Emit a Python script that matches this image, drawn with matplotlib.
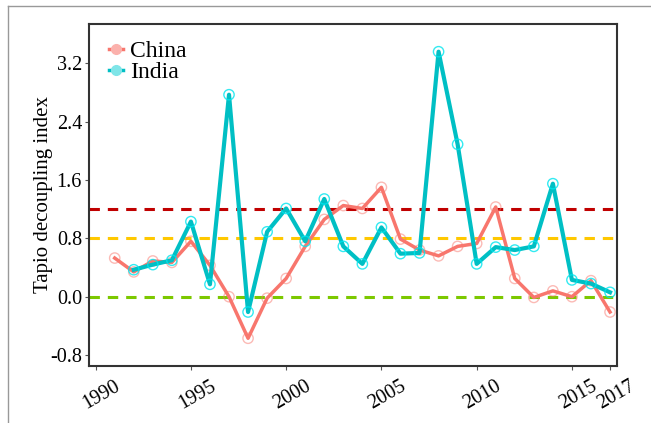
import numpy as np
import matplotlib
matplotlib.use('Agg')
import matplotlib.pyplot as plt
from matplotlib.lines import Line2D
import matplotlib.transforms as mtransforms

plt.rcParams['font.family'] = ['Liberation Serif', 'DejaVu Serif']

# Tapio decoupling index by year
china_years = list(range(1991, 2018))
china_vals = [0.53, 0.34, 0.49, 0.47, 0.76, 0.43, 0.00, -0.57, -0.02, 0.25,
              0.69, 1.06, 1.25, 1.21, 1.50, 0.79, 0.64, 0.56, 0.69, 0.73,
              1.23, 0.25, -0.01, 0.08, 0.00, 0.22, -0.21]
india_years = list(range(1992, 2018))
india_vals = [0.37, 0.44, 0.50, 1.03, 0.17, 2.77, -0.21, 0.89, 1.21, 0.76,
              1.34, 0.69, 0.45, 0.95, 0.59, 0.60, 3.36, 2.09, 0.45, 0.68,
              0.64, 0.69, 1.55, 0.23, 0.18, 0.06]

thresholds = [1.2, 0.8, 0.0]
threshold_colors = ['#C00000', '#FFC800', '#7CC800']

xticks = [1990, 1995, 2000, 2005, 2010, 2015, 2017]
yticks = [-0.8, 0.0, 0.8, 1.6, 2.4, 3.2]

red = '#F8766D'
teal = '#00BFC4'

fig = plt.figure(figsize=(6.51, 4.23), dpi=100)
ax = fig.add_axes([0.1367, 0.1355, 0.8106, 0.8078])

for y, c in zip(thresholds, threshold_colors):
    ax.axhline(y, color=c, lw=2.2, ls=(0, (3.4, 2.6)), zorder=1)

ax.plot(china_years, china_vals, color=red, lw=2.5, zorder=3)
ax.scatter(china_years, china_vals, s=55, facecolors='none',
           edgecolors=red, alpha=0.5, linewidths=1.0, zorder=4)
ax.plot(india_years, india_vals, color=teal, lw=3.0, zorder=5)
ax.scatter(india_years, india_vals, s=55, facecolors='none',
           edgecolors='#00E5EE', alpha=0.8, linewidths=1.0, zorder=6)

ax.set_xlim(1989.65, 2017.35)
ax.set_ylim(-0.946, 3.74)
ax.set_xticks(xticks)
ax.set_yticks(yticks)
ax.set_yticklabels([f'{v:.1f}' for v in yticks])
ax.tick_params(axis='both', direction='out', length=3, width=0.8,
               color='#555555', labelsize=14.5, labelcolor='black', pad=2)
ax.tick_params(axis='x', pad=5)

offset = mtransforms.ScaledTranslation(6 / 100, 0, fig.dpi_scale_trans)
for lab in ax.get_xticklabels():
    lab.set_rotation(30)
    lab.set_ha('center')
    lab.set_transform(lab.get_transform() + offset)

for side, sp in ax.spines.items():
    sp.set_color('#333333')
    sp.set_linewidth(1.5)

ax.set_ylabel('Tapio decoupling index', fontsize=15)
ax.yaxis.set_label_coords(-0.068, 0.5)

handles = [
    Line2D([], [], color=red, lw=2.5, marker='o', markersize=7,
           mfc='#FBB1AC', mec='#FBB1AC'),
    Line2D([], [], color=teal, lw=2.5, marker='o', markersize=7,
           mfc='#7FE5E8', mec='#7FE5E8'),
]
ax.legend(handles, ['China', 'India'], loc='upper left', frameon=False,
          fontsize=17, handlelength=0.6, handletextpad=0.3,
          labelspacing=0.0, borderaxespad=0.0, bbox_to_anchor=(0.02, 0.98))

# thin frame around the figure
fig.add_artist(Line2D([8 / 651, 8 / 651], [0, 1 - 6 / 423],
                      transform=fig.transFigure, color='#999999', lw=1))
fig.add_artist(Line2D([8 / 651, 1], [1 - 6 / 423, 1 - 6 / 423],
                      transform=fig.transFigure, color='#999999', lw=1))

fig.savefig('out.png', dpi=100)
